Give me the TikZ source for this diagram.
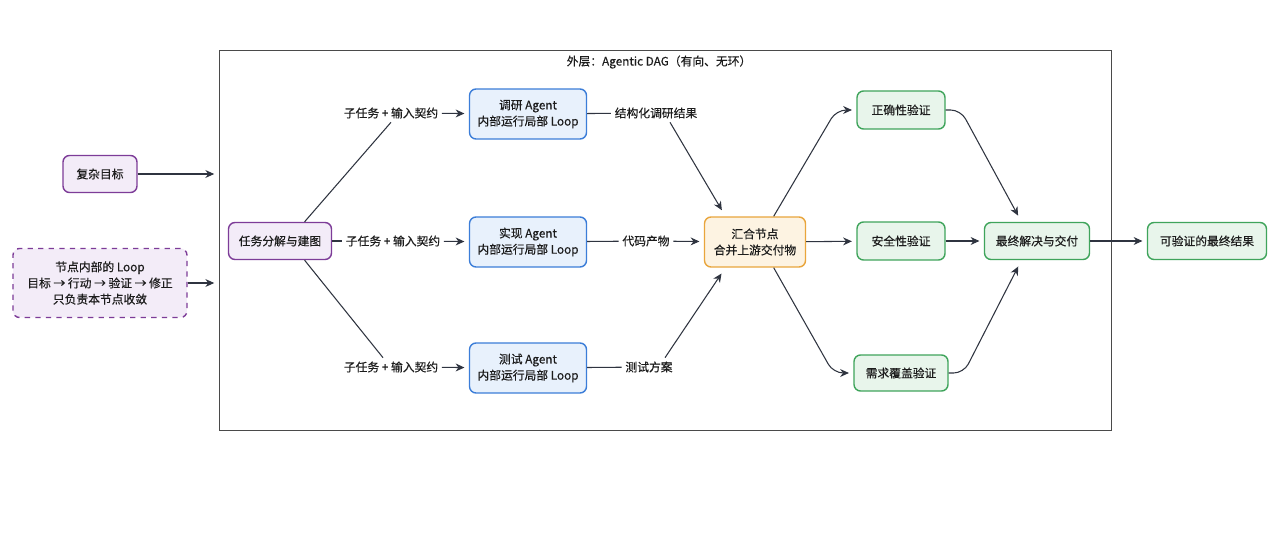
\documentclass[tikz,border=0pt]{standalone}
\usepackage{fontspec}
\setmainfont[FakeBold=0.35]{Noto Sans CJK SC}
\usetikzlibrary{arrows.meta,calc}
\definecolor{purpfill}{HTML}{F3ECF8}
\definecolor{purpline}{HTML}{7D3C98}
\definecolor{bluefill}{HTML}{E8F1FC}
\definecolor{blueline}{HTML}{3B7DD8}
\definecolor{orfill}{HTML}{FDF3E2}
\definecolor{orline}{HTML}{E9A53C}
\definecolor{grfill}{HTML}{E8F5EB}
\definecolor{grline}{HTML}{3FA45B}
\definecolor{ink}{HTML}{1C1C1C}
\definecolor{edgeclr}{HTML}{2F3440}
\definecolor{frameclr}{HTML}{4A4A4A}

\tikzset{
  box/.style={draw, rounded corners=0.13cm, line width=0.8pt, align=center, text=ink, inner sep=0pt},
  purp/.style={box, fill=purpfill, draw=purpline},
  blu/.style={box, fill=bluefill, draw=blueline, minimum width=2.34cm, minimum height=1cm},
  ora/.style={box, fill=orfill, draw=orline},
  grn/.style={box, fill=grfill, draw=grline},
  lbl/.style={text=ink, inner sep=2pt},
  ln/.style={draw=edgeclr, line width=0.6pt},
  arr/.style={ln, -{Stealth[length=5pt,width=4.5pt]}, shorten >=2.5pt},
}

\begin{document}
\begin{tikzpicture}[x=0.02cm, y=-0.02cm, font=\fontsize{6.7}{9.2}\selectfont]
    \fill[white] (0,0) rectangle (1280,533);
    \useasboundingbox (0,0) rectangle (1280,533);
    \node [draw=frameclr, line width=0.6pt, minimum width=17.86cm, minimum height=7.62cm, inner sep=0pt] (dag) at (665.5,240.5) {};
    \node [lbl] (title) at (659,62) {外层：Agentic DAG（有向、无环）};
    \node [purp, minimum width=1.48cm, minimum height=0.74cm] (goal) at (100,174) {复杂目标};
    \node [purp, dashed, minimum width=3.48cm, minimum height=1.38cm] (loop) at (100,283) {节点内部的 Loop\\目标 → 行动 → 验证 → 修正\\只负责本节点收敛};
    \node [purp, minimum width=2.06cm, minimum height=0.74cm] (plan) at (280,241) {任务分解与建图};
    \node [lbl] (l1) at (391,113) {子任务 + 输入契约};
    \node [lbl] (l2) at (393,241) {子任务 + 输入契约};
    \node [lbl] (l3) at (391,367) {子任务 + 输入契约};
    \node [blu] (research) at (528,114) {调研 Agent\\内部运行局部 Loop};
    \node [blu] (impl) at (528,242) {实现 Agent\\内部运行局部 Loop};
    \node [blu] (test) at (528,368) {测试 Agent\\内部运行局部 Loop};
    \node [lbl] (s1) at (656,113) {结构化调研结果};
    \node [lbl] (s2) at (646,241) {代码产物};
    \node [lbl] (s3) at (649,367) {测试方案};
    \node [ora, minimum width=2.02cm, minimum height=1cm] (merge) at (755,242) {汇合节点\\合并上游交付物};
    \node [grn, minimum width=1.76cm, minimum height=0.76cm] (v1) at (901,110) {正确性验证};
    \node [grn, minimum width=1.76cm, minimum height=0.76cm] (v2) at (901,241) {安全性验证};
    \node [grn, minimum width=1.88cm, minimum height=0.72cm] (v3) at (901,373) {需求覆盖验证};
    \node [grn, minimum width=2.1cm, minimum height=0.74cm] (final) at (1037,241) {最终解决与交付};
    \node [grn, minimum width=2.38cm, minimum height=0.74cm] (result) at (1207,241) {可验证的最终结果};
    \draw [arr] (goal) -- (goal -| dag.west);
    \draw [arr] (loop) -- (loop -| dag.west);
    \draw [ln] (plan.38) -- (l1.south);
    \draw [ln] (plan.east) -- (l2.west);
    \draw [ln] (plan.-38) -- ($(l3.north)+(-8,0)$);
    \draw [arr] (l1) -- (research);
    \draw [arr] (l2) -- (impl);
    \draw [arr] (l3) -- (test);
    \draw [ln] (research) -- (s1);
    \draw [ln] (impl) -- (s2);
    \draw [ln] (test) -- (s3);
    \draw [arr, shorten >=4pt] ($(s1.south)+(14,0)$) -- (merge.139);
    \draw [arr] (s2) -- (merge);
    \draw [arr, shorten >=4pt] ($(s3.north)+(16,0)$) -- (merge.-139);
    \draw [arr, rounded corners=0.2cm] (merge.54) -- ([xshift=-0.4cm]v1.west) -- (v1.west);
    \draw [arr] (merge) -- (v2);
    \draw [arr, rounded corners=0.2cm] (merge.-54) -- ([xshift=-0.4cm]v3.west) -- (v3.west);
    \draw [arr, shorten >=4pt, rounded corners=0.2cm] (v1.east) -- ([xshift=0.3cm]v1.east) -- (final.129);
    \draw [arr] (v2) -- (final);
    \draw [arr, shorten >=4pt, rounded corners=0.2cm] (v3.east) -- ([xshift=0.3cm]v3.east) -- (final.-129);
    \draw [arr] (final) -- (result);
\end{tikzpicture}
\end{document}
